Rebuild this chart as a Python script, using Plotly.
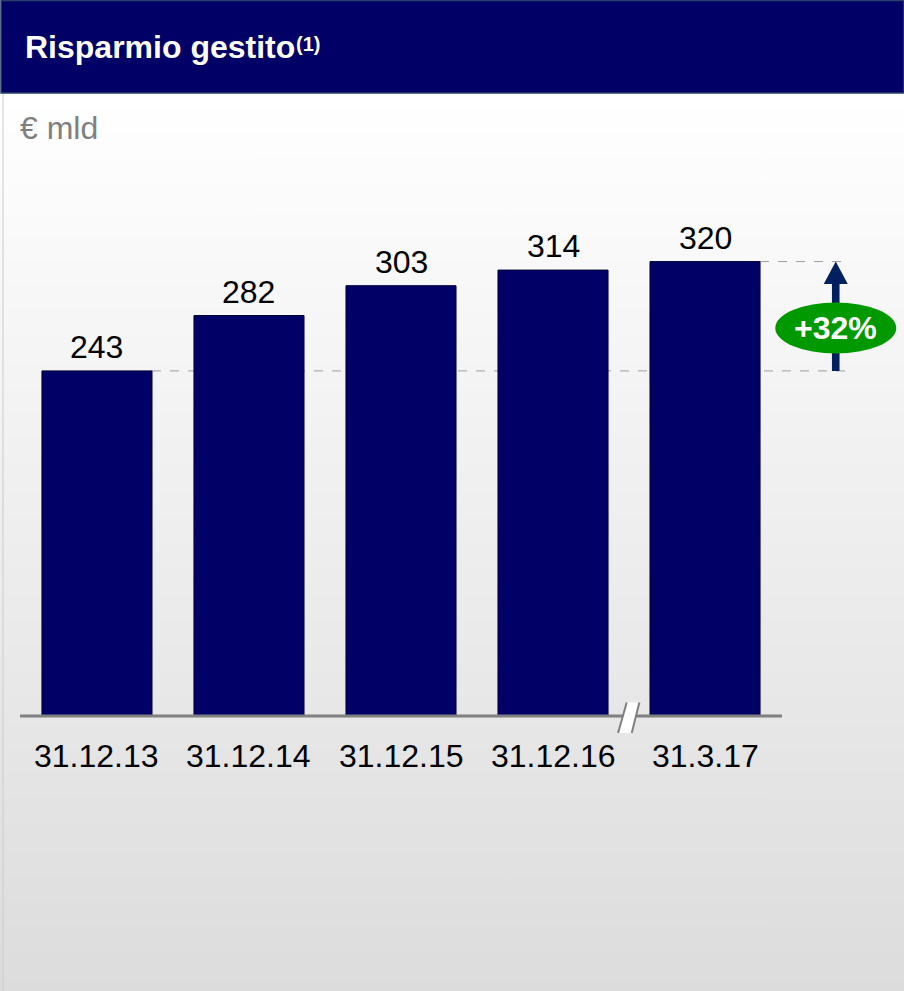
import base64
import plotly.graph_objects as go

# --- data -------------------------------------------------------------
categories = ["31.12.13", "31.12.14", "31.12.15", "31.12.16", "31.3.17"]
values = [243, 282, 303, 314, 320]
title_text = "Risparmio gestito"
title_note = "(1)"
unit_label = "€ mld"

# --- geometry / styling ----------------------------------------------
W, H = 904, 991
NAVY = "#000066"
FONT = "Arial, Liberation Sans, sans-serif"
FS = 32
X_RANGE = [-0.638, 5.309]          # 152 px per category
Y_RANGE = [-193.7, 504.2]          # baseline at 716 px, 1.42 px per unit

growth = round((values[-1] / values[0] - 1) * 100)

# soft vertical gradient behind everything below the header
svg = (
    f'<svg xmlns="http://www.w3.org/2000/svg" width="{W}" height="{H}" '
    f'preserveAspectRatio="none"><defs><linearGradient id="g" x1="0" y1="0" '
    f'x2="0" y2="1"><stop offset="0.094" stop-color="#ffffff"/>'
    f'<stop offset="1" stop-color="#dcdcdc"/></linearGradient></defs>'
    f'<rect width="{W}" height="{H}" fill="url(#g)"/></svg>'
)
bg_src = "data:image/svg+xml;base64," + base64.b64encode(svg.encode()).decode()

fig = go.Figure()
fig.add_trace(go.Bar(
    x=categories, y=values, width=0.724,
    marker=dict(color=NAVY, line=dict(color="#000033", width=1)),
    hoverinfo="skip",
))

def ypx(p):
    """paper fraction for a pixel row measured from the top"""
    return 1 - p / H

def xpx(p):
    return p / W

shapes = []
# header band
shapes.append(dict(type="rect", xref="paper", yref="paper",
                   x0=xpx(1), x1=xpx(W), y0=ypx(93), y1=ypx(0.5),
                   fillcolor=NAVY, line=dict(color="#26406a", width=1.5),
                   layer="above"))
# thin left border of the panel
shapes.append(dict(type="line", xref="paper", yref="paper",
                   x0=xpx(3), x1=xpx(3), y0=ypx(93), y1=0,
                   line=dict(color="#cccccc", width=1), layer="below"))

n = len(values)
half = 0.362
arrow_x = 4.86
dash_end = 4.934
# dashed reference lines at first and last value
shapes.append(dict(type="line", xref="x", yref="y",
                   x0=0 + half, x1=dash_end, y0=values[0], y1=values[0],
                   line=dict(color="#9e9e9e", width=1, dash="dash"),
                   layer="below"))
shapes.append(dict(type="line", xref="x", yref="y",
                   x0=n - 1 + half, x1=dash_end, y0=values[-1], y1=values[-1],
                   line=dict(color="#9e9e9e", width=1, dash="dash"),
                   layer="below"))
# growth arrow: shaft + head
head_h = 15.8
shapes.append(dict(type="rect", xref="x", yref="y",
                   x0=arrow_x - 0.025, x1=arrow_x + 0.025,
                   y0=values[0], y1=values[-1] - head_h + 0.5,
                   fillcolor="#002060", line=dict(width=0), layer="above"))
shapes.append(dict(type="path", xref="x", yref="y",
                   path=(f"M {arrow_x - 0.079} {values[-1] - head_h} "
                         f"L {arrow_x + 0.079} {values[-1] - head_h} "
                         f"L {arrow_x} {values[-1]} Z"),
                   fillcolor="#002060", line=dict(width=0), layer="above"))
# green badge
shapes.append(dict(type="circle", xref="x", yref="y",
                   x0=arrow_x - 0.398, x1=arrow_x + 0.398,
                   y0=273.2 - 17.96, y1=273.2 + 17.96,
                   fillcolor="#009900", line=dict(width=0), layer="above"))
# axis line
shapes.append(dict(type="line", xref="paper", yref="y",
                   x0=xpx(20), x1=xpx(782), y0=0, y1=0,
                   line=dict(color="#808080", width=3), layer="above"))
# axis break mark between the last two categories
tl, tr, br, bl = (3.485, 9.4), (3.568, 9.4), (3.518, -12.0), (3.428, -12.0)
shapes.append(dict(type="path", xref="x", yref="y",
                   path=(f"M {tl[0]} {tl[1]} L {tr[0]} {tr[1]} "
                         f"L {br[0]} {br[1]} L {bl[0]} {bl[1]} Z"),
                   fillcolor="#ffffff", line=dict(width=0), layer="above"))
for a, b in ((tl, bl), (tr, br)):
    shapes.append(dict(type="line", xref="x", yref="y",
                       x0=a[0], y0=a[1], x1=b[0], y1=b[1],
                       line=dict(color="#808080", width=2), layer="above"))

annotations = []
for c, v in zip(categories, values):
    annotations.append(dict(x=c, y=v, xref="x", yref="y", text=str(v),
                            showarrow=False, yshift=24, yanchor="middle",
                            font=dict(family=FONT, size=FS, color="#000000")))
    annotations.append(dict(x=c, y=0, xref="x", yref="y", text=c,
                            showarrow=False, yshift=-40, yanchor="middle",
                            font=dict(family=FONT, size=FS, color="#000000")))

annotations.append(dict(x=arrow_x, y=273.2, xref="x", yref="y",
                        text=f"<b>+{growth}%</b>", showarrow=False,
                        xanchor="center", yanchor="middle",
                        font=dict(family=FONT, size=FS, color="#ffffff")))
annotations.append(dict(x=xpx(23), y=ypx(47), xref="paper", yref="paper",
                        text=f"<b>{title_text}</b>", showarrow=False,
                        xanchor="left", yanchor="middle",
                        font=dict(family=FONT, size=FS, color="#ffffff")))
annotations.append(dict(x=xpx(294), y=ypx(44), xref="paper", yref="paper",
                        text=f"<b>{title_note}</b>", showarrow=False,
                        xanchor="left", yanchor="middle",
                        font=dict(family=FONT, size=20, color="#ffffff")))
annotations.append(dict(x=xpx(18), y=ypx(128), xref="paper", yref="paper",
                        text=unit_label, showarrow=False,
                        xanchor="left", yanchor="middle",
                        font=dict(family=FONT, size=FS, color="#808080")))

fig.update_layout(
    width=W, height=H,
    margin=dict(l=0, r=0, t=0, b=0),
    paper_bgcolor="#ffffff", plot_bgcolor="rgba(0,0,0,0)",
    showlegend=False,
    xaxis=dict(range=X_RANGE, visible=False, fixedrange=True),
    yaxis=dict(range=Y_RANGE, visible=False, fixedrange=True),
    shapes=shapes, annotations=annotations,
    images=[dict(source=bg_src, xref="paper", yref="paper", x=0, y=1,
                 sizex=1, sizey=1, xanchor="left", yanchor="top",
                 sizing="stretch", layer="below")],
)

fig.write_html("out.html")
